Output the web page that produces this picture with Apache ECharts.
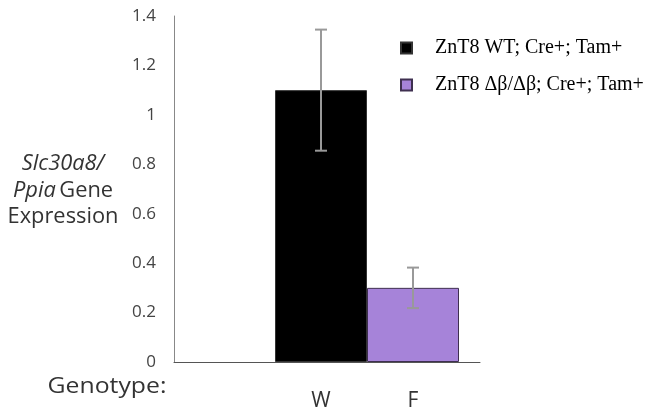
<!DOCTYPE html>
<html>
<head>
<meta charset="utf-8">
<script src="https://cdn.jsdelivr.net/npm/echarts@6/dist/echarts.min.js"></script>
<style>
  html, body { margin: 0; padding: 0; background: #fff; }
  #chart { width: 660px; height: 416px; }
</style>
</head>
<body>
<div id="chart"></div>
<script>
// data
var genotypes = ['W', 'F'];
var seriesNames = ['ZnT8 WT; Cre+; Tam+', 'ZnT8 \u0394\u03b2/\u0394\u03b2; Cre+; Tam+'];
var means = [1.10, 0.30];
var errors = [0.245, 0.082];
var barColors = ['#000000', '#a683d9'];
var yTicks = [0, 0.2, 0.4, 0.6, 0.8, 1, 1.2, 1.4];

var myChart = echarts.init(document.getElementById('chart'));

var yMin = yTicks[0];
var yMax = yTicks[yTicks.length - 1];

// one bar series per genotype so the legend shows both
var barSeries = seriesNames.map(function (name, i) {
  var d = genotypes.map(function (g, j) {
    return j === i ? means[j] : '-';
  });
  return {
    name: name,
    type: 'bar',
    xAxisIndex: 0,
    yAxisIndex: 0,
    stack: 'all',
    barWidth: '100%',
    itemStyle: {
      color: barColors[i],
      borderColor: i === 0 ? '#333' : '#3f3050',
      borderWidth: 1
    },
    data: d
  };
});

var option = {
  backgroundColor: '#fff',
  animation: false,
  legend: {
    orient: 'vertical',
    left: 395,
    top: 33,
    itemWidth: 11,
    itemHeight: 11,
    itemGap: 17,
    icon: 'rect',
    textStyle: {
      fontFamily: 'Liberation Serif',
      fontSize: 20,
      color: '#000',
      padding: [0, 0, 0, 18]
    },
    data: seriesNames
  },
  grid: [
    // bars
    { left: 275, right: 201, top: 16, bottom: 54 },
    // visible axes frame
    { left: 174, right: 180, top: 16, bottom: 54 }
  ],
  xAxis: [
    {
      type: 'category',
      gridIndex: 0,
      data: genotypes,
      axisLine: { show: false },
      axisTick: { show: false },
      axisLabel: {
        margin: 29,
        fontFamily: 'Open Sans',
        fontSize: 21,
        color: '#333'
      }
    },
    {
      type: 'category',
      gridIndex: 1,
      data: [''],
      axisLine: { show: true, lineStyle: { color: '#555', width: 1 } },
      axisTick: { show: false },
      axisLabel: { show: false }
    }
  ],
  yAxis: [
    {
      type: 'value',
      gridIndex: 0,
      min: yMin,
      max: yMax,
      interval: 0.2,
      show: false
    },
    {
      type: 'value',
      gridIndex: 1,
      min: yMin,
      max: yMax,
      interval: 0.2,
      axisLine: { show: true, lineStyle: { color: '#888', width: 1 } },
      axisTick: { show: false },
      splitLine: { show: false },
      axisLabel: {
        margin: 18,
        fontFamily: 'Open Sans',
        fontSize: 17,
        color: '#444',
        formatter: function (v) {
          return String(Math.round(v * 10) / 10);
        }
      }
    }
  ],
  series: barSeries.concat([
    {
      type: 'custom',
      xAxisIndex: 0,
      yAxisIndex: 0,
      z: 5,
      data: genotypes.map(function (g, j) {
        return [j, means[j] - errors[j], means[j] + errors[j]];
      }),
      renderItem: function (params, api) {
        var lo = api.coord([api.value(0), api.value(1)]);
        var hi = api.coord([api.value(0), api.value(2)]);
        var half = 6;
        var style = { stroke: '#999', lineWidth: 2 };
        return {
          type: 'group',
          children: [
            { type: 'line', shape: { x1: hi[0], y1: hi[1], x2: lo[0], y2: lo[1] }, style: style },
            { type: 'line', shape: { x1: hi[0] - half, y1: hi[1], x2: hi[0] + half, y2: hi[1] }, style: style },
            { type: 'line', shape: { x1: lo[0] - half, y1: lo[1], x2: lo[0] + half, y2: lo[1] }, style: style }
          ]
        };
      }
    }
  ]),
  graphic: [
    {
      type: 'text',
      x: 63,
      y: 151,
      scaleX: 1.04,
      style: {
        text: '{i|Slc30a8/}\n{i|Ppia} {n|Gene}\n{n|Expression}',
        align: 'center',
        verticalAlign: 'top',
        fill: '#333',
        rich: {
          i: { fontFamily: 'Open Sans', fontStyle: 'italic', fontSize: 21, lineHeight: 26.5, fill: '#333' },
          n: { fontFamily: 'Open Sans', fontSize: 21, lineHeight: 26.5, fill: '#333' }
        }
      }
    },
    {
      type: 'text',
      x: 107,
      y: 387,
      scaleX: 1.18,
      style: {
        text: 'Genotype:',
        align: 'center',
        verticalAlign: 'middle',
        fontFamily: 'Open Sans',
        fontSize: 21,
        fill: '#333'
      }
    }
  ]
};

myChart.setOption(option);
</script>
</body>
</html>
